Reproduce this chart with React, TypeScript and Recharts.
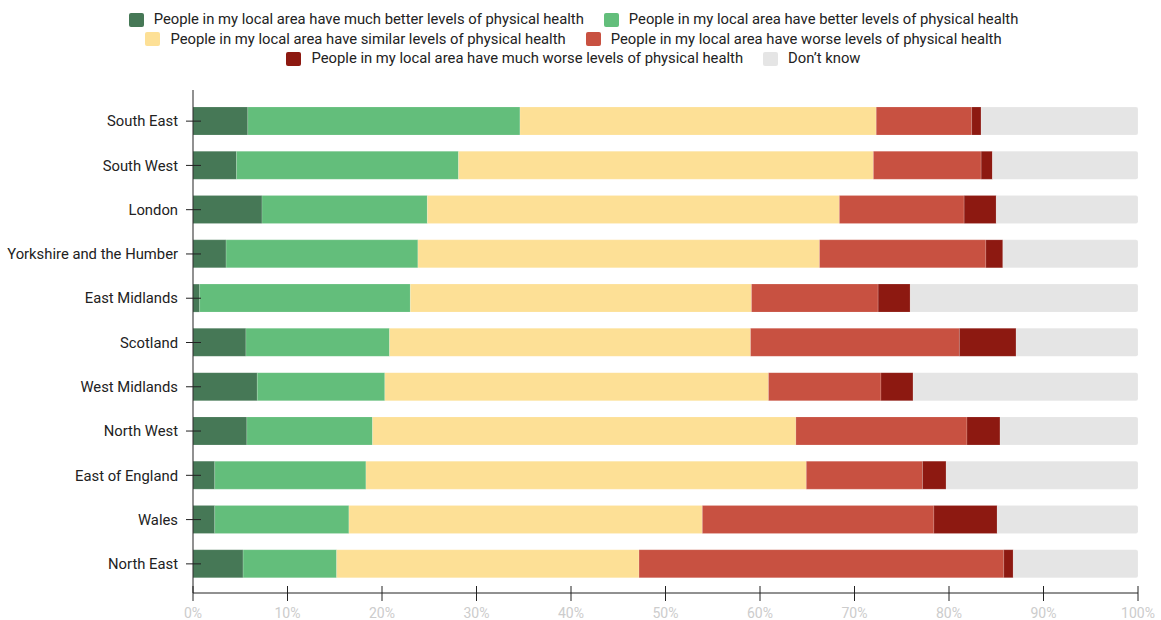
import { BarChart, Bar, XAxis, YAxis, Legend } from 'recharts'

const regions = [
  'South East',
  'South West',
  'London',
  'Yorkshire and the Humber',
  'East Midlands',
  'Scotland',
  'West Midlands',
  'North West',
  'East of England',
  'Wales',
  'North East',
]

const muchBetter = [5.8, 4.6, 7.3, 3.5, 0.7, 5.6, 6.8, 5.7, 2.3, 2.3, 5.3]
const better = [28.8, 23.5, 17.5, 20.3, 22.3, 15.2, 13.5, 13.3, 16.0, 14.2, 9.9]
const similar = [37.7, 43.9, 43.6, 42.5, 36.1, 38.2, 40.6, 44.8, 46.6, 37.4, 32.0]
const worse = [10.1, 11.4, 13.2, 17.6, 13.4, 22.1, 11.9, 18.1, 12.3, 24.5, 38.6]
const muchWorse = [1.0, 1.2, 3.4, 1.8, 3.4, 6.0, 3.4, 3.5, 2.5, 6.7, 1.0]
const dontKnow = [16.6, 15.4, 15.0, 14.3, 24.1, 12.9, 23.8, 14.6, 20.3, 14.9, 13.2]

const xTicks = [0, 10, 20, 30, 40, 50, 60, 70, 80, 90, 100]

const SERIES = [
  { key: 'muchBetter', name: 'People in my local area have much better levels of physical health', color: '#467856' },
  { key: 'better', name: 'People in my local area have better levels of physical health', color: '#63be7b' },
  { key: 'similar', name: 'People in my local area have similar levels of physical health', color: '#fde096' },
  { key: 'worse', name: 'People in my local area have worse levels of physical health', color: '#c85141' },
  { key: 'muchWorse', name: 'People in my local area have much worse levels of physical health', color: '#8d1911' },
  { key: 'dontKnow', name: 'Don\u2019t know', color: '#e5e5e5' },
]

const data = regions.map((region, i) => ({
  region,
  muchBetter: muchBetter[i],
  better: better[i],
  similar: similar[i],
  worse: worse[i],
  muchWorse: muchWorse[i],
  dontKnow: dontKnow[i],
}))

const FONT = 'Roboto, "Noto Sans", sans-serif'

// tick marks cross the axis line, so both axes draw their own ticks
function RegionTick({ x, y, payload }: any) {
  return (
    <g>
      <line x1={x - 7} x2={x + 8} y1={y} y2={y} stroke="#222" strokeWidth={1} />
      <text
        x={x - 15}
        y={y}
        dy="0.355em"
        textAnchor="end"
        fill="#222"
        fontSize={14.8}
        fontFamily={FONT}
      >
        {payload.value}
      </text>
    </g>
  )
}

function PercentTick({ x, y, payload }: any) {
  return (
    <g>
      <line x1={x} x2={x} y1={y - 7} y2={y + 8} stroke="#222" strokeWidth={1} />
      <text
        x={x}
        y={y + 25}
        textAnchor="middle"
        fill="#cccccc"
        fontSize={14}
        fontFamily={FONT}
      >
        {`${payload.value}%`}
      </text>
    </g>
  )
}

function LegendContent() {
  return (
    <div style={{ height: 70, width: 1147 }}>
      <div
        style={{
          width: 1000,
          margin: '0 auto',
          display: 'flex',
          flexWrap: 'wrap',
          justifyContent: 'center',
          columnGap: 20,
          fontFamily: FONT,
          fontSize: 14.8,
          lineHeight: '19.5px',
          color: '#222',
        }}
      >
        {SERIES.map((s) => (
          <div key={s.key} style={{ display: 'flex', alignItems: 'center', whiteSpace: 'nowrap' }}>
            <span
              style={{
                display: 'inline-block',
                width: 15,
                height: 14,
                borderRadius: 2,
                background: s.color,
                marginRight: 10,
              }}
            />
            <span>{s.name}</span>
          </div>
        ))}
      </div>
    </div>
  )
}

export default function App() {
  return (
    <div style={{ position: 'absolute', left: 0, top: 0, width: 1161, height: 620, background: '#fff' }}>
      <BarChart
        width={1161}
        height={620}
        data={data}
        layout="vertical"
        margin={{ top: 20, right: 23, bottom: 0, left: 0 }}
        barSize={28}
      >
        <Legend
          verticalAlign="top"
          content={<LegendContent />}
          wrapperStyle={{ top: 10, left: 0, width: 1147 }}
        />
        <XAxis
          type="number"
          domain={[0, 100]}
          ticks={xTicks}
          allowDataOverflow
          height={27}
          tickSize={0}
          tickMargin={0}
          tickLine={false}
          axisLine={{ stroke: '#222' }}
          tick={<PercentTick />}
          interval={0}
        />
        <YAxis
          type="category"
          dataKey="region"
          width={193}
          tickSize={0}
          tickMargin={0}
          tickLine={false}
          axisLine={{ stroke: '#222' }}
          tick={<RegionTick />}
          interval={0}
          padding={{ top: 9, bottom: 7 }}
        />
        {SERIES.map((s, i) => (
          <Bar
            key={s.key}
            dataKey={s.key}
            name={s.name}
            stackId="all"
            fill={s.color}
            stroke="rgba(255,255,255,0.3)"
            strokeWidth={0.5}
            radius={i === SERIES.length - 1 ? [0, 2, 2, 0] : 0}
            isAnimationActive={false}
          />
        ))}
      </BarChart>
    </div>
  )
}
